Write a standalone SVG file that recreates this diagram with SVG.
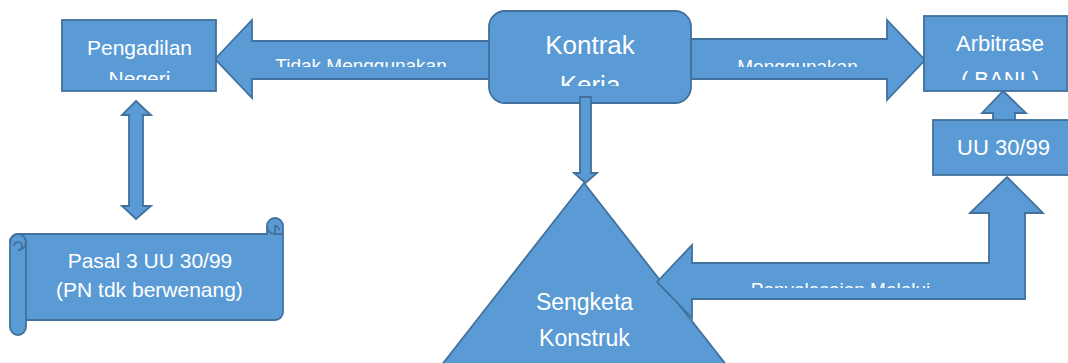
<svg xmlns="http://www.w3.org/2000/svg" width="1068" height="363" viewBox="0 0 1068 363">
<style>
.s{fill:#5B9BD5;stroke:#41719C;stroke-width:1.8;stroke-linejoin:miter}
.t{fill:#FFFFFF;font-family:"Liberation Sans",Arial,sans-serif;text-anchor:middle}
.d{fill:none;stroke:#41719C;stroke-width:1.8}
</style>
<defs>
<clipPath id="cPN"><rect x="62" y="20" width="154" height="60"/></clipPath>
<clipPath id="cTM"><rect x="250" y="40" width="240" height="27"/></clipPath>
<clipPath id="cKK"><rect x="489" y="11" width="202" height="75"/></clipPath>
<clipPath id="cMG"><rect x="690" y="39" width="197" height="28"/></clipPath>
<clipPath id="cAB"><rect x="924" y="16" width="142" height="64"/></clipPath>
<clipPath id="cPM"><rect x="692" y="263" width="300" height="25"/></clipPath>
</defs>
<rect width="1068" height="363" fill="#FFFFFF"/>

<g id="sengketa">
<polygon class="s" points="584,183 430,380 738,380"/>
<text class="t" x="584.5" y="310" font-size="23">Sengketa</text>
<text class="t" x="584.5" y="346" font-size="23">Konstruk</text>
</g>

<g id="connectors">
<g id="arrow-tidak">
<polygon class="s" points="215,59 252,20 252,41 495,41 495,79 252,79 252,98"/>
<text class="t" x="361" y="72" font-size="19" clip-path="url(#cTM)">Tidak Menggunakan</text>
</g>
<g id="arrow-menggunakan">
<polygon class="s" points="685,39 887,39 887,20 925,60 887,100 887,79 685,79"/>
<text class="t" x="797.5" y="72.5" font-size="19" clip-path="url(#cMG)">Menggunakan</text>
</g>
<polygon id="arrow-double" class="s" points="136,101 151,115 143,115 143,206 151,206 136,219 122,206 129,206 129,115 122,115"/>
<polygon id="arrow-uu-arb" class="s" points="1003,91 1026,113 1015,113 1015,121 993,121 993,113 982,113"/>
<g id="arrow-penyelesaian">
<polygon class="s" points="657,282 692,245 692,263 989,263 989,213 970,213 1007,177 1043,213 1025,213 1025,299 692,299 692,318"/>
<text class="t" x="840.5" y="296" font-size="19" clip-path="url(#cPM)">Penyelesaian Melalui</text>
</g>
</g>

<g id="pengadilan">
<rect class="s" x="62" y="20" width="154" height="71"/>
<g clip-path="url(#cPN)">
<text class="t" x="139.5" y="55" font-size="21">Pengadilan</text>
<text class="t" x="139.5" y="86" font-size="21">Negeri</text>
</g>
</g>

<g id="kontrak">
<rect class="s" x="489" y="11" width="202" height="92" rx="16" ry="16"/>
<g clip-path="url(#cKK)">
<text class="t" x="590" y="54" font-size="26">Kontrak</text>
<text class="t" x="590" y="93.5" font-size="26">Kerja</text>
</g>
</g>

<polygon id="arrow-down" class="s" points="580,97 591,97 591,173 597,173 585.5,183 574,173 580,173"/>

<g id="arbitrase">
<rect class="s" x="924" y="16" width="143" height="75"/>
<g clip-path="url(#cAB)">
<text class="t" x="1000" y="51" font-size="22">Arbitrase</text>
<text class="t" x="1000" y="86.5" font-size="22">( BANI )</text>
</g>
</g>

<g id="uu3099">
<rect class="s" x="933" y="120" width="136" height="55"/>
<text class="t" x="1003.5" y="155" font-size="22">UU 30/99</text>
</g>

<g id="pasal3">
<path class="s" d="M10 242 A8 8 0 0 1 18 234 L267 234 L267 226 A8 8 0 0 1 283 226 L283 312 A8 8 0 0 1 275 320 L26 320 L26 327 A8 8 0 0 1 10 327 Z"/>
<path class="d" d="M26 242 L26 320"/>
<path class="d" d="M18 250 A8 8 0 0 0 26 242 A8 8 0 0 0 10 242"/>
<path class="d" d="M18 250 A4 4 0 0 0 18 242 A4 4 0 0 0 14 246"/>
<path class="d" d="M267 226 A8 8 0 0 0 275 234 L283 234"/>
<path class="d" d="M275 234 L275 226 A4 4 0 0 1 279 230"/>
<text class="t" x="150" y="268" font-size="21">Pasal 3 UU 30/99</text>
<text class="t" x="149.5" y="297" font-size="21">(PN tdk berwenang)</text>
</g>
</svg>
